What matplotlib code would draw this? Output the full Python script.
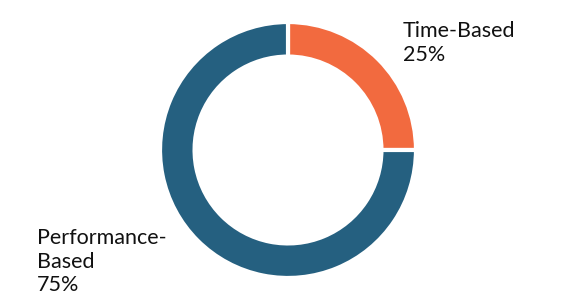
import matplotlib.pyplot as plt

labels = ["Time-Based\n25%", "Performance-\nBased\n75%"]
shares = [25, 75]
colors = ["#F26A3F", "#256080"]

plt.rcParams['font.family'] = ['Lato', 'DejaVu Sans']

fig = plt.figure(figsize=(5.76, 3.0), dpi=100)
ax = fig.add_axes([0, 0, 1, 1])

# clockwise from 12 o'clock, orange first
ax.pie(shares, colors=colors, startangle=90, counterclock=False, radius=1.0,
       wedgeprops=dict(width=0.27, edgecolor="white", linewidth=3))

ax.set_aspect("equal")
ax.set_xlim(-2.25, 2.25)
ax.set_ylim(-1.172, 1.172)
ax.axis("off")

fig.text(403 / 576, 1 - 21 / 300, labels[0], ha="left", va="top",
         fontsize=15.5, color="#111111", linespacing=1.22)
fig.text(37 / 576, 1 - 228 / 300, labels[1], ha="left", va="top",
         fontsize=15.5, color="#111111", linespacing=1.22)

fig.savefig("out.png", dpi=100, facecolor="white")
